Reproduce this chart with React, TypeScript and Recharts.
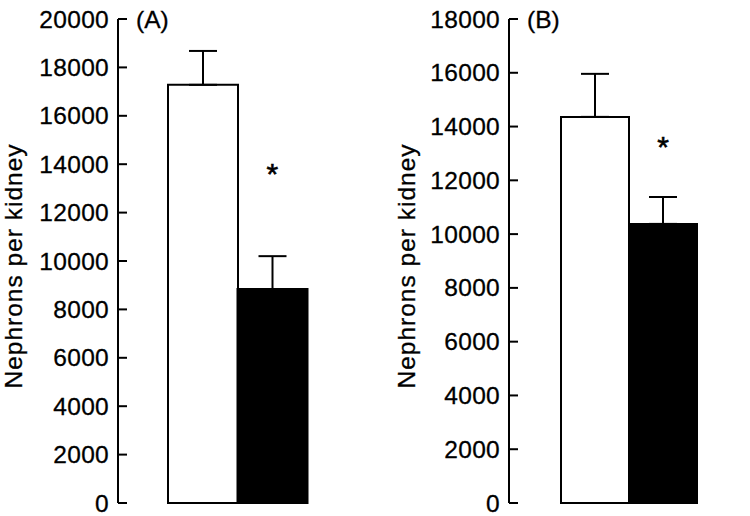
import { Bar, BarChart, Cell, ErrorBar, Label, ReferenceDot, XAxis, YAxis } from "recharts";

const FONT = "'Liberation Sans', Arial, Helvetica, sans-serif";

const groups = ["Control", "Low protein"];
const groupFills = ["#ffffff", "#000000"];

const panelTags = ["(A)", "(B)"];
const yTitle = "Nephrons per kidney";

const meansA = [17280, 8840];
const errorsA = [1400, 1360];
const starA = 13900;
const ticksA = [0, 2000, 4000, 6000, 8000, 10000, 12000, 14000, 16000, 18000, 20000];

const meansB = [14360, 10380];
const errorsB = [1600, 1000];
const starB = 13500;
const ticksB = [0, 2000, 4000, 6000, 8000, 10000, 12000, 14000, 16000, 18000];

type PanelProps = {
  tag: string;
  means: number[];
  errors: number[];
  star: number;
  ticks: number[];
  axisWidth: number;
  marginRight: number;
  padLeft: number;
  padRight: number;
  titleX: number;
};

function YTick(props: any) {
  const { x, y, payload } = props;
  return (
    <g>
      <line x1={x + 9} x2={x + 18} y1={y} y2={y} stroke="#000" strokeWidth={2} />
      <text
        x={x}
        y={y}
        textAnchor="end"
        dominantBaseline="central"
        fontSize={24.5}
        letterSpacing={0.3}
        fontFamily={FONT}
        fill="#000"
        stroke="#000"
        strokeWidth={0.3}
      >
        {payload.value}
      </text>
    </g>
  );
}

// little upturned tick at the right end of the x axis
function AxisEnd(props: any) {
  const vb = props.viewBox;
  const x = vb.x + vb.width;
  return <line x1={x} x2={x} y1={vb.y + 1} y2={vb.y - 5} stroke="#000" strokeWidth={2} />;
}

function Panel({ tag, means, errors, star, ticks, axisWidth, marginRight, padLeft, padRight, titleX }: PanelProps) {
  const data = groups.map((group, i) => ({
    group,
    value: means[i],
    err: [0, errors[i]],
  }));

  const renderTitles = (props: any) => {
    const vb = props.viewBox;
    const cy = vb.y + vb.height / 2 + 5;
    return (
      <g fontFamily={FONT} fill="#000" stroke="#000" strokeWidth={0.3}>
        <text
          x={titleX}
          y={cy}
          transform={`rotate(-90, ${titleX}, ${cy})`}
          textAnchor="middle"
          dominantBaseline="central"
          fontSize={24.5}
          letterSpacing={1}
        >
          {yTitle}
        </text>
        <text x={vb.x + vb.width + 18} y={vb.y} dominantBaseline="central" fontSize={24.5}>
          {tag}
        </text>
      </g>
    );
  };

  return (
    <BarChart
      width={375}
      height={516}
      data={data}
      margin={{ top: 19, right: marginRight, bottom: 13, left: 0 }}
      barCategoryGap={0}
      barGap={0}
    >
      <XAxis
        dataKey="group"
        tick={false}
        tickLine={false}
        axisLine={{ stroke: "#000", strokeWidth: 2 }}
        height={0}
        padding={{ left: padLeft, right: padRight }}
      >
        <Label content={(p: any) => <AxisEnd {...p} />} />
      </XAxis>
      <YAxis
        type="number"
        domain={[0, ticks[ticks.length - 1]]}
        ticks={ticks}
        interval={0}
        width={axisWidth}
        tickSize={0}
        tickMargin={9}
        tickLine={false}
        axisLine={{ stroke: "#000", strokeWidth: 2 }}
        tick={(p: any) => <YTick {...p} />}
      >
        <Label content={renderTitles} />
      </YAxis>
      <Bar dataKey="value" stroke="#000" strokeWidth={2} isAnimationActive={false}>
        {data.map((d, i) => (
          <Cell key={d.group} fill={groupFills[i]} />
        ))}
        <ErrorBar dataKey="err" direction="y" width={14} strokeWidth={2} stroke="#000" isAnimationActive={false} />
      </Bar>
      <ReferenceDot
        x={groups[1]}
        y={star}
        r={0}
        isFront
        shape={(p: any) => (
          <text
            x={p.cx}
            y={p.cy + 17}
            textAnchor="middle"
            fontSize={30}
            fontFamily={FONT}
            fill="#000"
            stroke="#000"
            strokeWidth={0.6}
          >
            *
          </text>
        )}
      />
    </BarChart>
  );
}

export default function App() {
  return (
    <div style={{ position: "absolute", left: 0, top: 0, width: 750, height: 516, display: "flex", background: "#fff" }}>
      <Panel
        tag={panelTags[0]}
        means={meansA}
        errors={errorsA}
        star={starA}
        ticks={ticksA}
        axisWidth={118}
        marginRight={18}
        padLeft={50}
        padRight={50}
        titleX={13}
      />
      <Panel
        tag={panelTags[1]}
        means={meansB}
        errors={errorsB}
        star={starB}
        ticks={ticksB}
        axisWidth={134}
        marginRight={5}
        padLeft={52}
        padRight={48}
        titleX={31}
      />
    </div>
  );
}
